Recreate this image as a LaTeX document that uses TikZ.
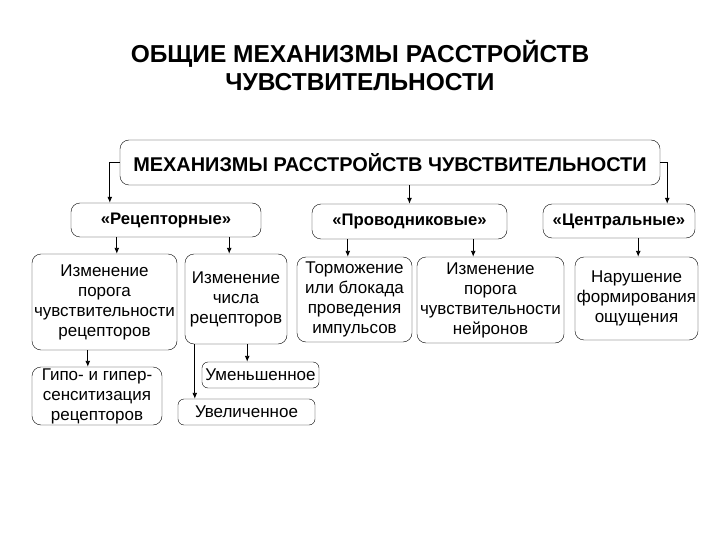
\documentclass[tikz,border=0pt]{standalone}
\usepackage{fontspec}
\setmainfont{Liberation Sans}
\usetikzlibrary{arrows.meta}
\tikzstyle{mybox} = [draw=black, fill=white, rounded corners=9pt,
rectangle, align=center, inner sep=0pt, font=\fontsize{17}{20}\selectfont]
\tikzstyle{catbox} = [mybox, font=\bfseries\fontsize{16.7}{19}\selectfont]
\tikzstyle{smallbox} = [mybox, rounded corners=6pt]
\tikzstyle{myarrow} = [-{Latex[length=6pt,width=5pt]}, line width=0.9pt]

\begin{document}
\begin{tikzpicture}[x=1pt, y=-1pt]
		\useasboundingbox (0,0) rectangle (720,540);
		\node [font=\bfseries\fontsize{24.5}{28}\selectfont, align=center] (title) at (360,66)
			{ОБЩИЕ МЕХАНИЗМЫ РАССТРОЙСТВ\\ЧУВСТВИТЕЛЬНОСТИ};
		%top
		\node [mybox, font=\bfseries\fontsize{19.9}{22}\selectfont, minimum width=540pt, minimum height=45pt] (main) at (390,162.5)
			{МЕХАНИЗМЫ РАССТРОЙСТВ ЧУВСТВИТЕЛЬНОСТИ};
		\node [catbox, minimum width=190pt, minimum height=34pt] (rec) at (166,220) {«Рецепторные»};
		\node [catbox, minimum width=195pt, minimum height=35pt] (prov) at (409.5,221.5) {«Проводниковые»};
		\node [catbox, minimum width=152pt, minimum height=34pt] (centr) at (619,221) {«Центральные»};
		%second row
		\node [mybox, minimum width=145pt, minimum height=96pt] (thresh) at (104.5,302)
			{Изменение\\порога\\чувствительности\\рецепторов};
		\node [mybox, minimum width=102pt, minimum height=90pt] (number) at (236,299)
			{Изменение\\числа\\рецепторов};
		\node [mybox, minimum width=115pt, minimum height=85pt] (block) at (354.5,299.5)
			{Торможение\\или блокада\\проведения\\импульсов};
		\node [mybox, minimum width=147pt, minimum height=86pt] (neur) at (490.5,300)
			{Изменение\\порога\\чувствительности\\нейронов};
		\node [mybox, minimum width=123pt, minimum height=83pt] (sens) at (636.5,298.5)
			{Нарушение\\формирования\\ощущения};
		%third row
		\node [mybox, minimum width=130pt, minimum height=58pt] (hypo) at (97,396)
			{Гипо- и гипер-\\сенситизация\\рецепторов};
		\node [smallbox, minimum width=117pt, minimum height=26pt] (less) at (260.5,375) {Уменьшенное};
		\node [smallbox, minimum width=137pt, minimum height=26pt] (more) at (246.5,412) {Увеличенное};
		%arrows
		\draw [myarrow] (main.west) -| ([xshift=39pt]rec.north west);
		\draw [myarrow] (main.south -| prov.north) -- (prov.north);
		\draw [myarrow] (main.east) -| ([xshift=-28pt]centr.north east);
		\draw [myarrow] ([xshift=46pt]rec.south west) -- ([xshift=46pt]rec.south west |- thresh.north);
		\draw [myarrow] ([xshift=-32pt]rec.south east) -- ([xshift=-32pt]rec.south east |- number.north);
		\draw [myarrow] ([xshift=36pt]prov.south west) -- ([xshift=36pt]prov.south west |- block.north);
		\draw [myarrow] ([xshift=-34pt]prov.south east) -- ([xshift=-34pt]prov.south east |- neur.north);
		\draw [myarrow] ([xshift=-57pt]centr.south east) -- ([xshift=-57pt]centr.south east |- sens.north);
		\draw [myarrow] ([xshift=56pt]thresh.south west) -- ([xshift=56pt]thresh.south west |- hypo.north);
		\draw [myarrow] ([xshift=-40pt]number.south east) -- ([xshift=-40pt]number.south east |- less.north);
		\draw [myarrow] ([xshift=10pt]number.south west) -- ([xshift=10pt]number.south west |- more.north);
\end{tikzpicture}
\end{document}
